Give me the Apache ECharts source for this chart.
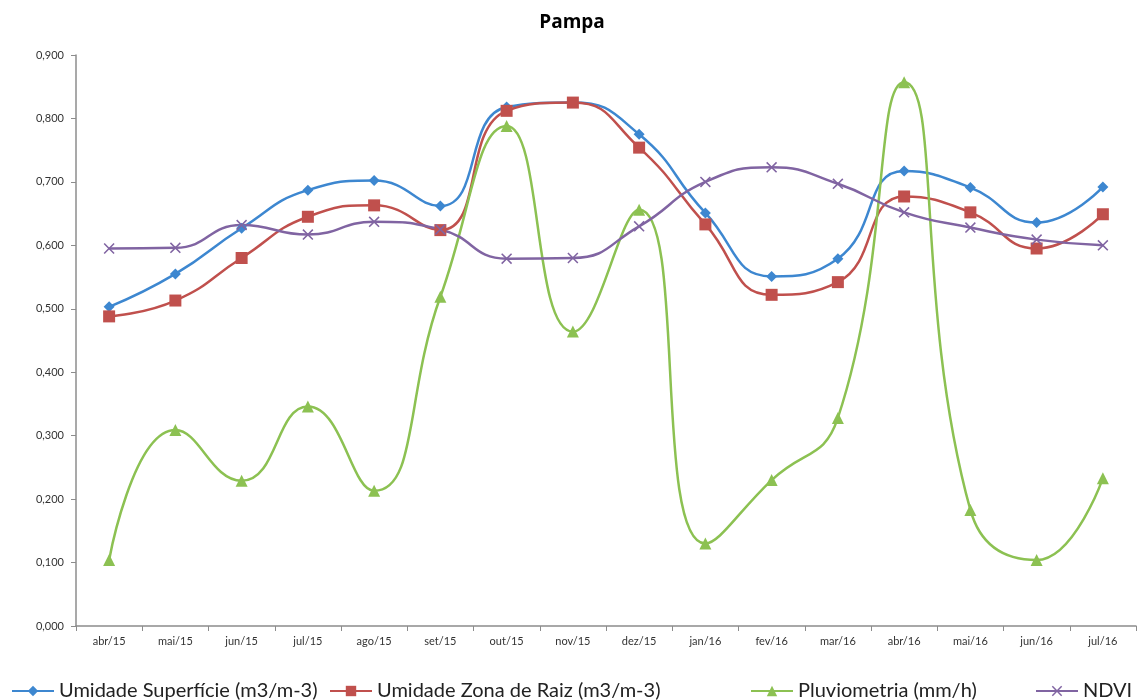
<!DOCTYPE html>
<html>
<head>
<meta charset="utf-8">
<script src="https://cdn.jsdelivr.net/npm/echarts@6/dist/echarts.min.js"></script>
<style>html,body{margin:0;padding:0;background:#fff}#c{width:1144px;height:700px}</style>
</head>
<body>
<div id="c"></div>
<script>
const categories = ["abr/15","mai/15","jun/15","jul/15","ago/15","set/15","out/15","nov/15","dez/15","jan/16","fev/16","mar/16","abr/16","mai/16","jun/16","jul/16"];
const umidadeSuperficie = [0.503,0.555,0.627,0.687,0.702,0.662,0.818,0.825,0.775,0.651,0.551,0.579,0.717,0.691,0.636,0.692];
const umidadeZonaRaiz = [0.488,0.513,0.580,0.645,0.663,0.624,0.812,0.825,0.754,0.633,0.522,0.542,0.677,0.652,0.595,0.649];
const pluviometria = [0.104,0.309,0.229,0.346,0.213,0.519,0.788,0.464,0.656,0.130,0.230,0.328,0.857,0.183,0.104,0.233];
const ndvi = [0.595,0.596,0.632,0.617,0.637,0.625,0.579,0.580,0.630,0.700,0.723,0.697,0.652,0.628,0.609,0.600];
const yTicks = {min:0, max:0.9, interval:0.1};
const seriesNames = ['Umidade Superfície (m3/m-3)','Umidade Zona de Raiz (m3/m-3)','Pluviometria (mm/h)','NDVI'];

const font = 'Lato, "Open Sans", sans-serif';
const xPath = 'path://M0,1L1,0L5,4L9,0L10,1L6,5L10,9L9,10L5,6L1,10L0,9L4,5Z';
function mk(name, data, color, symbol, size) {
  return {
    name, type:'line', data, smooth:0.5,
    symbol, symbolSize:size, showSymbol:true,
    lineStyle:{color, width:2.5},
    itemStyle:{color},
    z: 2
  };
}
const legendLefts = [6, 324, 745, 1030];
const legends = seriesNames.map((n,i)=>({
  data:[n], left:legendLefts[i], top:676, itemWidth:42, itemHeight:13, itemGap:4,
  textStyle:{fontSize:20, fontFamily:font, color:'#222'}
}));
const chart = echarts.init(document.getElementById('c'));
chart.setOption({
  animation:false,
  backgroundColor:'#fff',
  title:{text:'Pampa', left:'center', top:8, textStyle:{fontFamily:'"Open Sans", sans-serif', fontWeight:'bold', fontSize:19, color:'#000'}},
  grid:{left:76, right:8, top:55, bottom:74},
  xAxis:{type:'category', data:categories, boundaryGap:true,
    axisLine:{lineStyle:{color:'#8c8c8c', width:1.5}},
    axisTick:{show:true, alignWithLabel:false, length:5, lineStyle:{color:'#8c8c8c'}},
    axisLabel:{color:'#333', fontSize:11, fontFamily:font, margin:10}},
  yAxis:{type:'value', min:yTicks.min, max:yTicks.max, interval:yTicks.interval,
    axisLine:{show:true, lineStyle:{color:'#8c8c8c', width:1.5}},
    axisTick:{show:true, length:5, lineStyle:{color:'#8c8c8c'}},
    splitLine:{show:false},
    axisLabel:{color:'#333', fontSize:11, fontFamily:font, margin:12,
      formatter:v=>v.toFixed(3).replace('.',',')}},
  legend:legends,
  series:[
    mk(seriesNames[0], umidadeSuperficie, '#3d87d0', 'diamond', 11),
    mk(seriesNames[1], umidadeZonaRaiz, '#c0504d', 'rect', 12),
    mk(seriesNames[2], pluviometria, '#8cc152', 'triangle', 12),
    mk(seriesNames[3], ndvi, '#8064a2', xPath, 11)
  ]
});
</script>
</body>
</html>
